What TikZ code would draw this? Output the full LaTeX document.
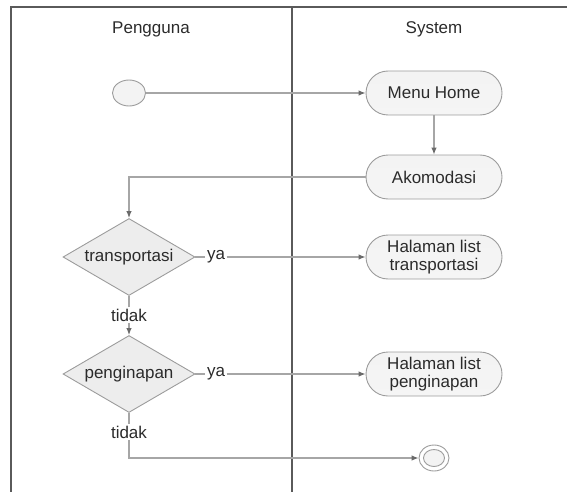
\documentclass[tikz,border=0pt]{standalone}
\usepackage{fontspec}
\setmainfont{Liberation Sans}
\usetikzlibrary{arrows.meta,shapes.geometric}
\definecolor{txt}{HTML}{2B2B2B}
\definecolor{frameline}{HTML}{5A5A5A}
\definecolor{connline}{HTML}{A6A6A6}
\definecolor{tipcol}{HTML}{6A6A6A}
\definecolor{nodeedge}{HTML}{9C9C9C}
\definecolor{nodefill}{HTML}{F3F3F3}
\definecolor{decfill}{HTML}{EDEDED}
\tikzset{
  x=1pt, y=-1pt,
  every node/.style={text=txt, font=\fontsize{17}{17.5}\selectfont},
  lane/.style={draw=frameline, line width=1.6pt},
  activity/.style={rectangle, rounded corners=22pt, draw=nodeedge, line width=0.9pt,
    top color=nodefill, bottom color=white!96!black, minimum width=136pt, minimum height=44pt,
    align=center, inner sep=2pt},
  decision/.style={diamond, draw=nodeedge, line width=0.9pt, fill=decfill, aspect=1.71,
    minimum width=132pt, minimum height=77pt, inner sep=0pt},
  startnode/.style={ellipse, draw=nodeedge, line width=0.9pt, fill=nodefill,
    minimum width=33pt, minimum height=26pt, inner sep=0pt},
  endring/.style={ellipse, draw=nodeedge, line width=0.9pt, fill=white,
    minimum width=30pt, minimum height=26pt, inner sep=0pt},
  endcore/.style={ellipse, draw=nodeedge, line width=0.9pt, fill=nodefill,
    minimum width=21pt, minimum height=17pt, inner sep=0pt},
  guard/.style={fill=white, inner sep=1.5pt},
  conn/.style={draw=connline, line width=1.1pt},
  flow/.style={conn, -{Latex[length=7pt,width=5.5pt,color=tipcol]}},
}
\begin{document}
\begin{tikzpicture}
\useasboundingbox (0,0) rectangle (567,492);
% swimlane frame
\draw[lane] (11,492) -- (11,7) -- (567,7);
\draw[lane] (292,7) -- (292,492);
\node (hdrA) at (151,29) {Pengguna};
\node (hdrB) at (434,29) {System};

% nodes
\node[startnode] (start) at (129,93) {};
\node[activity] (home) at (434,93) {Menu Home};
\node[activity] (akom) at (434,177) {Akomodasi};
\node[decision] (dtrans) at (129,257) {transportasi};
\node[activity] (htrans) at (434,257) {Halaman list\\transportasi};
\node[decision] (dinap) at (129,374) {penginapan};
\node[activity] (hinap) at (434,374) {Halaman list\\penginapan};
\node[endring] (fin) at (434,458) {};
\node[endcore] (fincore) at (434,458) {};

% guard labels
\node[guard] (ya1) at (dtrans.center -| 216,0) {ya};
\node[guard] (tidak1) at (129,315) {tidak};
\node[guard] (ya2) at (dinap.center -| 216,0) {ya};
\node[guard] (tidak2) at (129,432) {tidak};

% connectors
\draw[flow] (start) -- (home);
\draw[flow] (home) -- (akom);
\draw[flow] (akom.west) -| (dtrans.north);
\draw[conn] (dtrans.east) -- (dtrans.east -| ya1.west);
\draw[flow] (ya1.east |- htrans.west) -- (htrans.west);
\draw[conn] (dtrans.south) -- (tidak1.north);
\draw[flow] (tidak1.south) -- (dinap.north);
\draw[conn] (dinap.east) -- (dinap.east -| ya2.west);
\draw[flow] (ya2.east |- hinap.west) -- (hinap.west);
\draw[conn] (dinap.south) -- (tidak2.north);
\draw[flow] (tidak2.south) |- (fin.west);
\end{tikzpicture}
\end{document}
